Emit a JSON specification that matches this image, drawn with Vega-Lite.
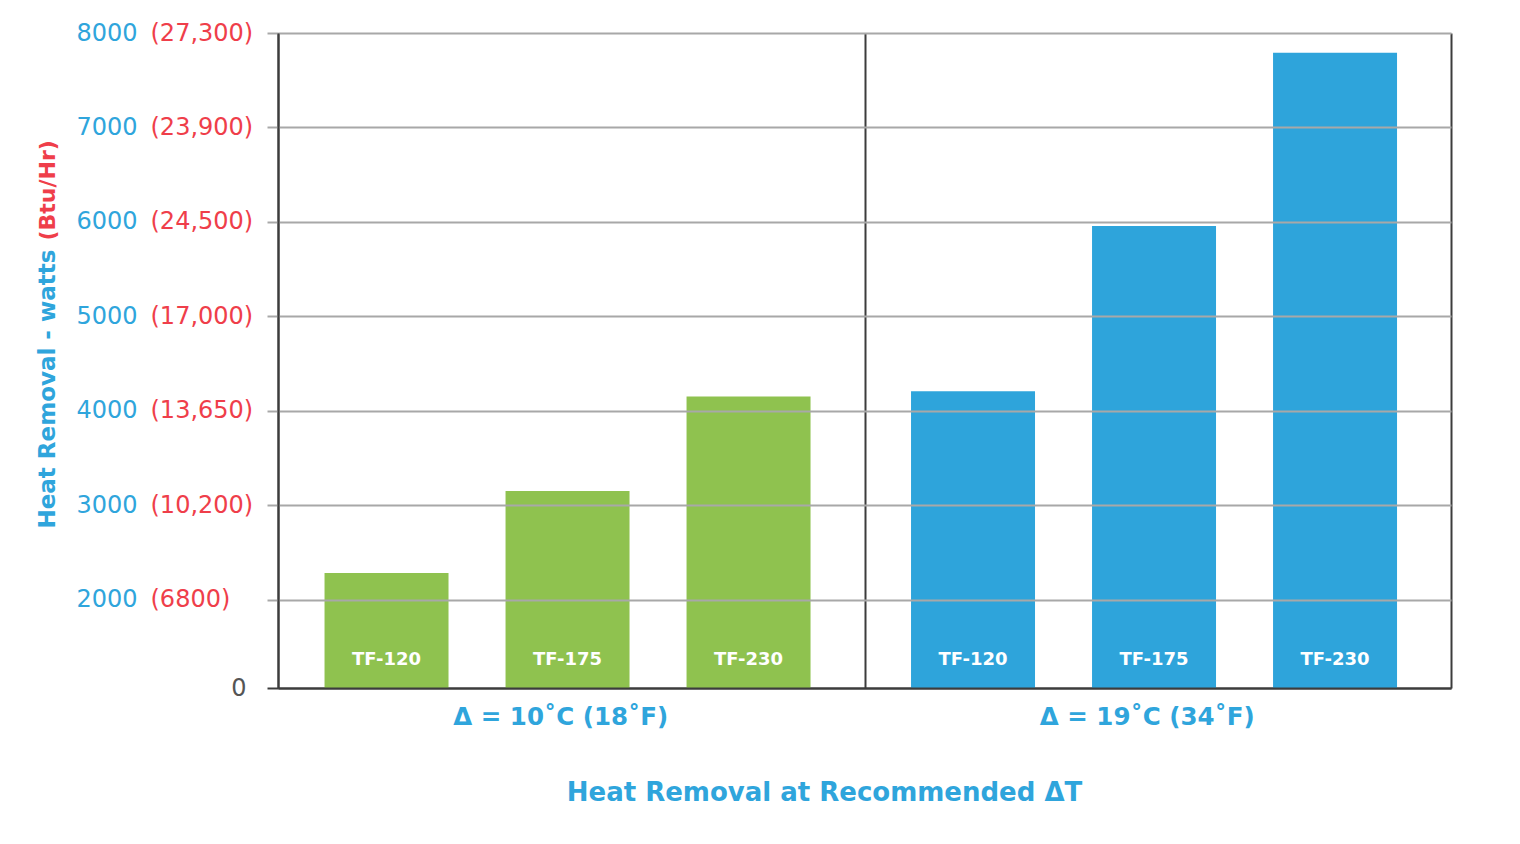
{
  "$schema": "https://vega.github.io/schema/vega-lite/v6.json",
  "width": 1173,
  "height": 655,
  "autosize": {"type": "none"},
  "padding": {"left": 278, "top": 33, "right": 69, "bottom": 156},
  "background": "white",
  "config": {"view": {"stroke": null}, "font": "DejaVu Sans"},
  "data": {
    "values": [
      {"delta": "Δ = 10˚C (18˚F)", "model": "TF-120", "watts": 2280},
      {"delta": "Δ = 10˚C (18˚F)", "model": "TF-175", "watts": 3150},
      {"delta": "Δ = 10˚C (18˚F)", "model": "TF-230", "watts": 4150},
      {"delta": "Δ = 19˚C (34˚F)", "model": "TF-120", "watts": 4205},
      {"delta": "Δ = 19˚C (34˚F)", "model": "TF-175", "watts": 5955},
      {"delta": "Δ = 19˚C (34˚F)", "model": "TF-230", "watts": 7790}
    ]
  },
  "layer": [
    {
      "mark": {"type": "bar", "clip": true},
      "encoding": {
        "x": {
          "field": "delta", "type": "nominal", "sort": null,
          "scale": {"paddingInner": 0, "paddingOuter": 0},
          "axis": {
            "orient": "bottom",
            "title": "Heat Removal at Recommended ΔT",
            "titleFontSize": 26, "titleFontWeight": "bold", "titleColor": "#2fa5dc",
            "titleX": 546, "titleY": 104, "titleAlign": "center", "titleBaseline": "middle", "titleAnchor": null,
            "labelFontSize": 24.5, "labelFontWeight": "bold", "labelColor": "#2fa5dc", "labelLimit": 0,
            "labelAngle": 0, "labelPadding": 29, "labelOffset": -11, "labelBaseline": "middle",
            "ticks": false, "tickBand": "extent",
            "domainColor": "#3c3c3c", "domainWidth": 2,
            "grid": true, "gridColor": "#3c3c3c", "gridWidth": 2
          }
        },
        "xOffset": {
          "field": "model", "type": "nominal", "sort": null,
          "scale": {"paddingInner": 0.315, "paddingOuter": 0.2776, "align": 0.463}
        },
        "y": {
          "field": "watts", "type": "quantitative",
          "scale": {"domain": [1063, 8000], "zero": false, "nice": false},
          "axis": {
            "orient": "left",
            "values": [1063, 2000, 3000, 4000, 5000, 6000, 7000, 8000],
            "labelExpr": "datum.value < 1500 ? '0' : datum.value == 2000 ? '(6800)' : datum.value == 3000 ? '(10,200)' : datum.value == 4000 ? '(13,650)' : datum.value == 5000 ? '(17,000)' : datum.value == 6000 ? '(24,500)' : datum.value == 7000 ? '(23,900)' : '(27,300)'",
            "labelColor": {"condition": {"test": "datum.value < 1500", "value": "#555555"}, "value": "#ef3e4a"},
            "labelAlign": {"condition": {"test": "datum.value < 1500", "value": "right"}, "value": "left"},
            "labelPadding": {"condition": {"test": "datum.value < 1500", "value": 21}, "value": 117},
            "labelFontSize": 24, "labelFontWeight": "normal", "labelBaseline": "middle", "labelLimit": 0,
            "tickSize": 11, "tickWidth": 2,
            "tickColor": {"condition": {"test": "datum.value < 1500", "value": "#3c3c3c"}, "value": "#a8a8a8"},
            "domainColor": "#3c3c3c", "domainWidth": 2,
            "grid": true, "gridWidth": 2,
            "gridColor": {"condition": {"test": "datum.value < 1500", "value": "#3c3c3c"}, "value": "#a8a8a8"},
            "zindex": 1,
            "title": "(Btu/Hr)", "titleColor": "#ef3e4a", "titleFontSize": 22, "titleFontWeight": "bold",
            "titleX": -224, "titleY": 207, "titleAlign": "left", "titleAngle": -90, "titleBaseline": "alphabetic", "titleAnchor": null
          }
        },
        "color": {
          "field": "delta", "type": "nominal", "sort": null,
          "scale": {"range": ["#8fc24f", "#2ea4db"]},
          "legend": null
        }
      }
    },
    {
      "mark": {"type": "text", "color": "white", "fontSize": 18, "fontWeight": "bold", "baseline": "alphabetic", "dy": -23},
      "encoding": {
        "x": {"field": "delta", "type": "nominal", "sort": null},
        "xOffset": {"field": "model", "type": "nominal", "sort": null},
        "y": {
          "datum": 1063, "type": "quantitative",
          "axis": {
            "orient": "left",
            "values": [2000, 3000, 4000, 5000, 6000, 7000, 8000],
            "format": "d",
            "labelAlign": "left", "labelPadding": 191, "labelBaseline": "middle",
            "labelColor": "#2fa5dc", "labelFontSize": 24, "labelFontWeight": "normal",
            "tickSize": 11, "tickOpacity": 0, "domain": false, "grid": false,
            "title": "Heat Removal - watts", "titleColor": "#2fa5dc", "titleFontSize": 23, "titleFontWeight": "bold",
            "titleX": -224, "titleY": 495, "titleAlign": "left", "titleAngle": -90, "titleBaseline": "alphabetic", "titleAnchor": null
          }
        },
        "text": {"field": "model"}
      }
    }
  ],
  "resolve": {"axis": {"y": "independent"}}
}
